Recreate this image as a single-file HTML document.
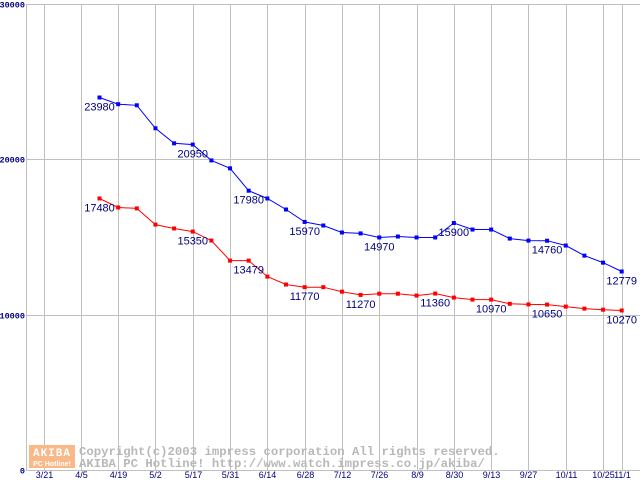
<!DOCTYPE html>
<html><head><meta charset="utf-8"><style>
html,body{margin:0;padding:0;background:#fff;}
svg{display:block;}
</style></head><body>
<svg id="chart" width="640" height="480" xmlns="http://www.w3.org/2000/svg">
<g id="grid"></g>
<g id="wm">
<rect x="29" y="445" width="46" height="23" fill="#f8b888"/>
<text x="52" y="456" font-family="Liberation Mono, monospace" font-size="11" font-weight="bold" fill="#fff" text-anchor="middle" letter-spacing="1">AKIBA</text>
<text x="52" y="466" font-family="Liberation Sans, sans-serif" font-size="7" font-weight="bold" fill="#fff" text-anchor="middle">PC Hotline!</text>
<text x="79" y="455" font-family="Liberation Mono, monospace" font-size="12.3" font-weight="bold" fill="#b8b8b8">Copyright(c)2003 impress corporation All rights reserved.</text>
<text x="79" y="467" font-family="Liberation Mono, monospace" font-size="12.3" font-weight="bold" fill="#b8b8b8">AKIBA PC Hotline!  http://www.watch.impress.co.jp/akiba/</text>
</g>
<g id="series"></g>
</svg>
<script>
const xTickLabels = ["3/21","4/5","4/19","5/2","5/17","5/31","6/14","6/28","7/12","7/26","8/9","8/30","9/13","9/27","10/11","10/25","11/1"];
const xTickWeeks = [-3,-1,1,3,5,7,9,11,13,15,17,19,21,23,25,27,28];
const yTicks = [0,10000,20000,30000];
const blueValues = [23980,23550,23480,22000,21030,20950,19930,19420,17980,17480,16770,15970,15740,15290,15230,14970,15030,14970,14970,15900,15480,15480,14900,14770,14760,14450,13800,13350,12779];
const redValues = [17480,16900,16840,15800,15550,15350,14770,13480,13479,12450,11940,11770,11770,11480,11270,11350,11350,11230,11360,11100,10970,10970,10700,10660,10650,10520,10390,10320,10270];
const blueLabeled = [0,5,8,11,15,19,24,28];
const redLabeled = [0,5,8,11,14,18,21,24,28];

const NS="http://www.w3.org/2000/svg";
const x0=99.5, wk=18.65;
function xs(i){return x0+wk*i;}
function ys(v){return 470-(v/30000)*466;}
function mk(tag,attrs,parent){const e=document.createElementNS(NS,tag);for(const k in attrs)e.setAttribute(k,attrs[k]);parent.appendChild(e);return e;}
const grid=document.getElementById('grid');
const ser=document.getElementById('series');
yTicks.forEach(v=>{
  const y=Math.round(ys(v))+0.5;
  const l=mk('line',{x1:26,x2:640,y1:y,y2:y,stroke:'#c0c0c0','stroke-width':1},grid);
  
  
  const t=mk('text',{x:25,y:y+3,'font-family':'Liberation Mono, monospace','font-size':8.5,'font-weight':'bold',fill:'#000080','text-anchor':'end'},grid);
  t.textContent=v;
  
  
});
xTickWeeks.forEach((w,i)=>{
  const x=Math.round(xs(w))+0.5;
  const l=mk('line',{x1:x,x2:x,y1:4,y2:470,stroke:'#c0c0c0','stroke-width':1},grid);
  
  
  const t=mk('text',{x:x,y:478,'font-family':'Liberation Sans, sans-serif','font-size':9,fill:'#000080','text-anchor':'middle'},grid);
  t.textContent=xTickLabels[i];
  
  
});
const axis=mk('line',{x1:26.5,x2:26.5,y1:4,y2:470,stroke:'#c0c0c0'},grid);


function drawSeries(vals,color,labeled,name){
  const pts=vals.map((v,i)=>xs(i).toFixed(1)+','+ys(v).toFixed(1)).join(' ');
  const pl=mk('polyline',{points:pts,fill:'none',stroke:color,'stroke-width':1},ser);
  
  
  vals.forEach((v,i)=>{
    const r=mk('rect',{x:xs(i)-2,y:ys(v)-2,width:4,height:4,fill:color},ser);
    
    
  });
  labeled.forEach(i=>{
    const t=mk('text',{x:xs(i),y:ys(vals[i])+13,'font-family':'Liberation Sans, sans-serif','font-size':11,fill:'#000080','text-anchor':'middle'},ser);
    t.textContent=vals[i];
    
    
  });
}
drawSeries(blueValues,'#0000ff',blueLabeled,'blue-series');
drawSeries(redValues,'#ff0000',redLabeled,'red-series');
</script>
</body></html>
